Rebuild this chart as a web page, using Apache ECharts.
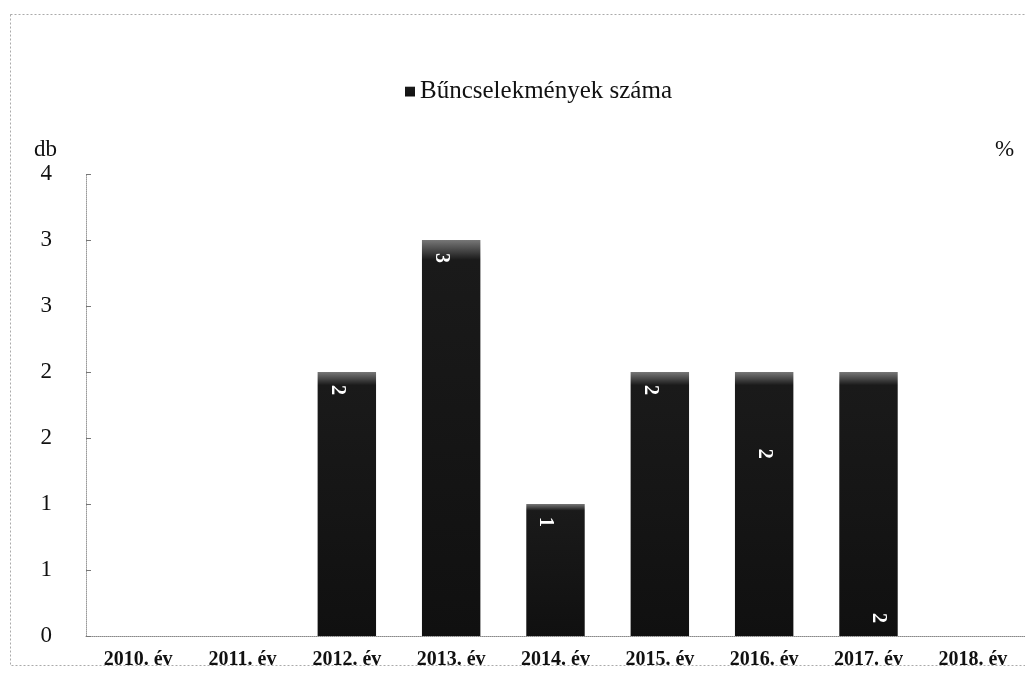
<!DOCTYPE html>
<html><head><meta charset="utf-8">
<script src="https://cdn.jsdelivr.net/npm/echarts@6/dist/echarts.min.js"></script>
<style>html,body{margin:0;padding:0;background:#fff}#c{width:1025px;height:674px}</style>
</head><body><div id="c"></div>
<script>
const categories = ['2010. év','2011. év','2012. év','2013. év','2014. év','2015. év','2016. év','2017. év','2018. év'];
const crimes = [null, null, 2, 3, 1, 2, 2, 2, null];
const seriesName = 'Bűncselekmények száma';
const labelPlaces = ['insideTop','insideTop','insideTop','insideTop','insideTop','insideTop',['50%','31%'],'insideBottom','insideTop'];

const serif = 'Liberation Serif, Times New Roman, serif';
const chart = echarts.init(document.getElementById('c'));
chart.setOption({
  animation: false,
  backgroundColor: '#fff',
  grid: {left: 86, top: 174, width: 946, height: 462, containLabel: false},
  legend: {
    data: [seriesName], top: 74, left: 400, itemWidth: 10, itemHeight: 10, itemGap: 8,
    icon: 'rect',
    textStyle: {fontFamily: serif, fontSize: 25, color: '#111'}
  },
  xAxis: {
    type: 'category', data: categories,
    axisLine: {lineStyle: {color: '#888', width: 1, type: 'dotted'}},
    axisTick: {show: false},
    axisLabel: {fontFamily: serif, fontSize: 20, fontWeight: 'bold', color: '#111', margin: 14, interval: 0}
  },
  yAxis: [{
    type: 'value', min: 0, max: 3.5, interval: 0.5,
    axisLine: {show: true, lineStyle: {color: '#999', width: 1, type: 'dotted'}},
    axisTick: {show: true, inside: true, length: 5, lineStyle: {color: '#777'}},
    splitLine: {show: false},
    axisLabel: {fontFamily: serif, fontSize: 23, color: '#111', margin: 34,
      formatter: v => String(Math.round(v))}
  }, {
    type: 'value', min: 0, max: 3.5, interval: 0.5, position: 'right',
    axisLine: {show: false}, axisTick: {show: false}, axisLabel: {show: false}, splitLine: {show: false}
  }],
  graphic: [
    {type: 'rect', left: 8, top: 12, shape: {width: 1030, height: 651},
     style: {fill: 'none', stroke: '#aaa', lineWidth: 1, lineDash: [2, 2]}},
    {type: 'text', left: 34, top: 138, style: {text: 'db', font: '23px ' + serif, fill: '#111'}},
    {type: 'text', left: 995, top: 138, style: {text: '%', font: '23px ' + serif, fill: '#111'}}
  ],
  series: [{
    name: seriesName, type: 'bar', barCategoryGap: '44%',
    itemStyle: {color: new echarts.graphic.LinearGradient(0, 0, 0, 1, [
      {offset: 0, color: '#777'}, {offset: 0.05, color: '#1a1a1a'}, {offset: 1, color: '#101010'}])},
    data: crimes.map((v, i) => ({
      value: v,
      label: {show: v != null, position: labelPlaces[i], rotate: -90, distance: 18,
        align: Array.isArray(labelPlaces[i]) ? 'center' : undefined,
        verticalAlign: Array.isArray(labelPlaces[i]) ? 'middle' : undefined,
        color: '#fff', fontFamily: serif, fontWeight: 'bold', fontSize: 20}
    }))
  }]
});
</script></body></html>
